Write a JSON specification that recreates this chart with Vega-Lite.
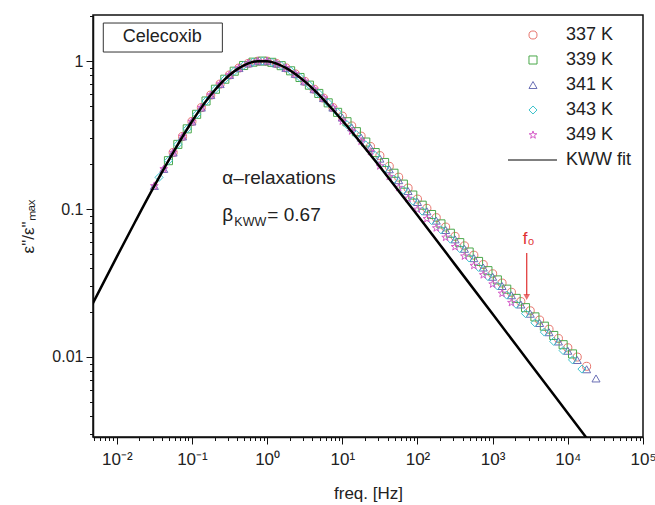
{
  "$schema": "https://vega.github.io/schema/vega-lite/v6.json",
  "width": 550,
  "height": 422,
  "autosize": "none",
  "padding": {"left": 93, "top": 15, "right": 12, "bottom": 68},
  "background": "white",
  "config": {
    "font": "Liberation Sans",
    "view": {"stroke": "#111111", "strokeWidth": 1.5},
    "axis": {
      "grid": false,
      "domainColor": "#111111",
      "domainWidth": 1.5,
      "tickColor": "#111111",
      "tickWidth": 1,
      "labelColor": "#222222",
      "labelFont": "Liberation Sans",
      "titleFont": "Liberation Sans",
      "titleColor": "#222222",
      "titleFontWeight": "normal",
      "labelOverlap": false,
      "labelBound": false,
      "labelFlush": false
    }
  },
  "datasets": {
    "spectra": [
      {"temp": "337 K", "freq": 0.05623, "loss": 0.2407},
      {"temp": "337 K", "freq": 0.07499, "loss": 0.309},
      {"temp": "337 K", "freq": 0.1, "loss": 0.3901},
      {"temp": "337 K", "freq": 0.1334, "loss": 0.4844},
      {"temp": "337 K", "freq": 0.1778, "loss": 0.5887},
      {"temp": "337 K", "freq": 0.2371, "loss": 0.6982},
      {"temp": "337 K", "freq": 0.3162, "loss": 0.8044},
      {"temp": "337 K", "freq": 0.4217, "loss": 0.896},
      {"temp": "337 K", "freq": 0.5623, "loss": 0.9632},
      {"temp": "337 K", "freq": 0.7499, "loss": 0.997},
      {"temp": "337 K", "freq": 1, "loss": 0.9972},
      {"temp": "337 K", "freq": 1.334, "loss": 0.9605},
      {"temp": "337 K", "freq": 1.778, "loss": 0.8981},
      {"temp": "337 K", "freq": 2.371, "loss": 0.8177},
      {"temp": "337 K", "freq": 3.162, "loss": 0.7286},
      {"temp": "337 K", "freq": 4.217, "loss": 0.6446},
      {"temp": "337 K", "freq": 5.623, "loss": 0.5616},
      {"temp": "337 K", "freq": 7.499, "loss": 0.4846},
      {"temp": "337 K", "freq": 10, "loss": 0.4243},
      {"temp": "337 K", "freq": 13.34, "loss": 0.3641},
      {"temp": "337 K", "freq": 17.78, "loss": 0.3106},
      {"temp": "337 K", "freq": 23.71, "loss": 0.2643},
      {"temp": "337 K", "freq": 31.62, "loss": 0.2293},
      {"temp": "337 K", "freq": 42.17, "loss": 0.1942},
      {"temp": "337 K", "freq": 56.23, "loss": 0.164},
      {"temp": "337 K", "freq": 74.99, "loss": 0.1384},
      {"temp": "337 K", "freq": 100, "loss": 0.1167},
      {"temp": "337 K", "freq": 133.4, "loss": 0.101},
      {"temp": "337 K", "freq": 177.8, "loss": 0.08738},
      {"temp": "337 K", "freq": 237.1, "loss": 0.0755},
      {"temp": "337 K", "freq": 316.2, "loss": 0.06525},
      {"temp": "337 K", "freq": 421.7, "loss": 0.05636},
      {"temp": "337 K", "freq": 562.3, "loss": 0.04871},
      {"temp": "337 K", "freq": 749.9, "loss": 0.04213},
      {"temp": "337 K", "freq": 1000, "loss": 0.03649},
      {"temp": "337 K", "freq": 1334, "loss": 0.03159},
      {"temp": "337 K", "freq": 1778, "loss": 0.02736},
      {"temp": "337 K", "freq": 2371, "loss": 0.02369},
      {"temp": "337 K", "freq": 3162, "loss": 0.02052},
      {"temp": "337 K", "freq": 4217, "loss": 0.01777},
      {"temp": "337 K", "freq": 5623, "loss": 0.01539},
      {"temp": "337 K", "freq": 7499, "loss": 0.01333},
      {"temp": "337 K", "freq": 10000, "loss": 0.01154},
      {"temp": "337 K", "freq": 13340, "loss": 0.00999},
      {"temp": "337 K", "freq": 17780, "loss": 0.00865},

      {"temp": "339 K", "freq": 0.0487, "loss": 0.2121},
      {"temp": "339 K", "freq": 0.06494, "loss": 0.2733},
      {"temp": "339 K", "freq": 0.0866, "loss": 0.348},
      {"temp": "339 K", "freq": 0.1155, "loss": 0.4364},
      {"temp": "339 K", "freq": 0.154, "loss": 0.5368},
      {"temp": "339 K", "freq": 0.2054, "loss": 0.6447},
      {"temp": "339 K", "freq": 0.2738, "loss": 0.7534},
      {"temp": "339 K", "freq": 0.3652, "loss": 0.8533},
      {"temp": "339 K", "freq": 0.487, "loss": 0.9324},
      {"temp": "339 K", "freq": 0.6494, "loss": 0.9822},
      {"temp": "339 K", "freq": 0.866, "loss": 0.9986},
      {"temp": "339 K", "freq": 1.155, "loss": 0.9797},
      {"temp": "339 K", "freq": 1.54, "loss": 0.9302},
      {"temp": "339 K", "freq": 2.054, "loss": 0.8586},
      {"temp": "339 K", "freq": 2.738, "loss": 0.7739},
      {"temp": "339 K", "freq": 3.652, "loss": 0.6869},
      {"temp": "339 K", "freq": 4.87, "loss": 0.6037},
      {"temp": "339 K", "freq": 6.494, "loss": 0.5217},
      {"temp": "339 K", "freq": 8.66, "loss": 0.4499},
      {"temp": "339 K", "freq": 11.55, "loss": 0.3887},
      {"temp": "339 K", "freq": 15.4, "loss": 0.333},
      {"temp": "339 K", "freq": 20.54, "loss": 0.2834},
      {"temp": "339 K", "freq": 27.38, "loss": 0.2407},
      {"temp": "339 K", "freq": 36.52, "loss": 0.2062},
      {"temp": "339 K", "freq": 48.7, "loss": 0.1744},
      {"temp": "339 K", "freq": 64.94, "loss": 0.1472},
      {"temp": "339 K", "freq": 86.6, "loss": 0.1242},
      {"temp": "339 K", "freq": 115.5, "loss": 0.1061},
      {"temp": "339 K", "freq": 154, "loss": 0.09176},
      {"temp": "339 K", "freq": 205.4, "loss": 0.07933},
      {"temp": "339 K", "freq": 273.8, "loss": 0.06858},
      {"temp": "339 K", "freq": 365.2, "loss": 0.05925},
      {"temp": "339 K", "freq": 487, "loss": 0.0512},
      {"temp": "339 K", "freq": 649.4, "loss": 0.04422},
      {"temp": "339 K", "freq": 866, "loss": 0.03831},
      {"temp": "339 K", "freq": 1155, "loss": 0.03318},
      {"temp": "339 K", "freq": 1540, "loss": 0.02873},
      {"temp": "339 K", "freq": 2054, "loss": 0.02488},
      {"temp": "339 K", "freq": 2738, "loss": 0.02154},
      {"temp": "339 K", "freq": 3652, "loss": 0.01866},
      {"temp": "339 K", "freq": 4870, "loss": 0.01615},
      {"temp": "339 K", "freq": 6494, "loss": 0.01398},
      {"temp": "339 K", "freq": 8660, "loss": 0.01211},
      {"temp": "339 K", "freq": 11550, "loss": 0.01049},

      {"temp": "341 K", "freq": 0.03162, "loss": 0.1432},
      {"temp": "341 K", "freq": 0.04217, "loss": 0.1865},
      {"temp": "341 K", "freq": 0.05623, "loss": 0.2407},
      {"temp": "341 K", "freq": 0.07499, "loss": 0.309},
      {"temp": "341 K", "freq": 0.1, "loss": 0.3901},
      {"temp": "341 K", "freq": 0.1334, "loss": 0.4844},
      {"temp": "341 K", "freq": 0.1778, "loss": 0.5887},
      {"temp": "341 K", "freq": 0.2371, "loss": 0.6982},
      {"temp": "341 K", "freq": 0.3162, "loss": 0.8044},
      {"temp": "341 K", "freq": 0.4217, "loss": 0.896},
      {"temp": "341 K", "freq": 0.5623, "loss": 0.9632},
      {"temp": "341 K", "freq": 0.7499, "loss": 0.997},
      {"temp": "341 K", "freq": 1, "loss": 0.9972},
      {"temp": "341 K", "freq": 1.334, "loss": 0.9605},
      {"temp": "341 K", "freq": 1.778, "loss": 0.8981},
      {"temp": "341 K", "freq": 2.371, "loss": 0.8177},
      {"temp": "341 K", "freq": 3.162, "loss": 0.7286},
      {"temp": "341 K", "freq": 4.217, "loss": 0.6446},
      {"temp": "341 K", "freq": 5.623, "loss": 0.5616},
      {"temp": "341 K", "freq": 7.499, "loss": 0.4846},
      {"temp": "341 K", "freq": 10, "loss": 0.4148},
      {"temp": "341 K", "freq": 13.34, "loss": 0.3559},
      {"temp": "341 K", "freq": 17.78, "loss": 0.3036},
      {"temp": "341 K", "freq": 23.71, "loss": 0.2584},
      {"temp": "341 K", "freq": 31.62, "loss": 0.219},
      {"temp": "341 K", "freq": 42.17, "loss": 0.1855},
      {"temp": "341 K", "freq": 56.23, "loss": 0.1566},
      {"temp": "341 K", "freq": 74.99, "loss": 0.1322},
      {"temp": "341 K", "freq": 100, "loss": 0.1115},
      {"temp": "341 K", "freq": 133.4, "loss": 0.09645},
      {"temp": "341 K", "freq": 177.8, "loss": 0.08346},
      {"temp": "341 K", "freq": 237.1, "loss": 0.07211},
      {"temp": "341 K", "freq": 316.2, "loss": 0.06232},
      {"temp": "341 K", "freq": 421.7, "loss": 0.05383},
      {"temp": "341 K", "freq": 562.3, "loss": 0.04652},
      {"temp": "341 K", "freq": 749.9, "loss": 0.04024},
      {"temp": "341 K", "freq": 1000, "loss": 0.03485},
      {"temp": "341 K", "freq": 1334, "loss": 0.03017},
      {"temp": "341 K", "freq": 1778, "loss": 0.02613},
      {"temp": "341 K", "freq": 2371, "loss": 0.02263},
      {"temp": "341 K", "freq": 3162, "loss": 0.0196},
      {"temp": "341 K", "freq": 4217, "loss": 0.01697},
      {"temp": "341 K", "freq": 5623, "loss": 0.0147},
      {"temp": "341 K", "freq": 7499, "loss": 0.01273},
      {"temp": "341 K", "freq": 10000, "loss": 0.01102},
      {"temp": "341 K", "freq": 13340, "loss": 0.00954},
      {"temp": "341 K", "freq": 17780, "loss": 0.00826},
      {"temp": "341 K", "freq": 23710, "loss": 0.00716},

      {"temp": "343 K", "freq": 0.03652, "loss": 0.1636},
      {"temp": "343 K", "freq": 0.0487, "loss": 0.2121},
      {"temp": "343 K", "freq": 0.06494, "loss": 0.2733},
      {"temp": "343 K", "freq": 0.0866, "loss": 0.348},
      {"temp": "343 K", "freq": 0.1155, "loss": 0.4364},
      {"temp": "343 K", "freq": 0.154, "loss": 0.5368},
      {"temp": "343 K", "freq": 0.2054, "loss": 0.6447},
      {"temp": "343 K", "freq": 0.2738, "loss": 0.7534},
      {"temp": "343 K", "freq": 0.3652, "loss": 0.8533},
      {"temp": "343 K", "freq": 0.487, "loss": 0.9324},
      {"temp": "343 K", "freq": 0.6494, "loss": 0.9822},
      {"temp": "343 K", "freq": 0.866, "loss": 0.9986},
      {"temp": "343 K", "freq": 1.155, "loss": 0.9797},
      {"temp": "343 K", "freq": 1.54, "loss": 0.9302},
      {"temp": "343 K", "freq": 2.054, "loss": 0.8586},
      {"temp": "343 K", "freq": 2.738, "loss": 0.7739},
      {"temp": "343 K", "freq": 3.652, "loss": 0.6869},
      {"temp": "343 K", "freq": 4.87, "loss": 0.6037},
      {"temp": "343 K", "freq": 6.494, "loss": 0.5217},
      {"temp": "343 K", "freq": 8.66, "loss": 0.4499},
      {"temp": "343 K", "freq": 11.55, "loss": 0.3712},
      {"temp": "343 K", "freq": 15.4, "loss": 0.318},
      {"temp": "343 K", "freq": 20.54, "loss": 0.2707},
      {"temp": "343 K", "freq": 27.38, "loss": 0.2299},
      {"temp": "343 K", "freq": 36.52, "loss": 0.1881},
      {"temp": "343 K", "freq": 48.7, "loss": 0.1591},
      {"temp": "343 K", "freq": 64.94, "loss": 0.1343},
      {"temp": "343 K", "freq": 86.6, "loss": 0.1133},
      {"temp": "343 K", "freq": 115.5, "loss": 0.09675},
      {"temp": "343 K", "freq": 154, "loss": 0.08369},
      {"temp": "343 K", "freq": 205.4, "loss": 0.07235},
      {"temp": "343 K", "freq": 273.8, "loss": 0.06255},
      {"temp": "343 K", "freq": 365.2, "loss": 0.05404},
      {"temp": "343 K", "freq": 487, "loss": 0.0467},
      {"temp": "343 K", "freq": 649.4, "loss": 0.04033},
      {"temp": "343 K", "freq": 866, "loss": 0.03494},
      {"temp": "343 K", "freq": 1155, "loss": 0.03026},
      {"temp": "343 K", "freq": 1540, "loss": 0.0262},
      {"temp": "343 K", "freq": 2054, "loss": 0.02269},
      {"temp": "343 K", "freq": 2738, "loss": 0.01965},
      {"temp": "343 K", "freq": 3652, "loss": 0.01702},
      {"temp": "343 K", "freq": 4870, "loss": 0.01473},
      {"temp": "343 K", "freq": 6494, "loss": 0.01275},
      {"temp": "343 K", "freq": 8660, "loss": 0.01105},
      {"temp": "343 K", "freq": 11550, "loss": 0.00956},
      {"temp": "343 K", "freq": 15400, "loss": 0.00829},

      {"temp": "349 K", "freq": 0.03162, "loss": 0.1432},
      {"temp": "349 K", "freq": 0.04217, "loss": 0.1865},
      {"temp": "349 K", "freq": 0.05623, "loss": 0.2407},
      {"temp": "349 K", "freq": 0.07499, "loss": 0.309},
      {"temp": "349 K", "freq": 0.1, "loss": 0.3901},
      {"temp": "349 K", "freq": 0.1334, "loss": 0.4844},
      {"temp": "349 K", "freq": 0.1778, "loss": 0.5887},
      {"temp": "349 K", "freq": 0.2371, "loss": 0.6982},
      {"temp": "349 K", "freq": 0.3162, "loss": 0.8044},
      {"temp": "349 K", "freq": 0.4217, "loss": 0.896},
      {"temp": "349 K", "freq": 0.5623, "loss": 0.9632},
      {"temp": "349 K", "freq": 0.7499, "loss": 0.997},
      {"temp": "349 K", "freq": 1, "loss": 0.9972},
      {"temp": "349 K", "freq": 1.334, "loss": 0.9605},
      {"temp": "349 K", "freq": 1.778, "loss": 0.8981},
      {"temp": "349 K", "freq": 2.371, "loss": 0.8177},
      {"temp": "349 K", "freq": 3.162, "loss": 0.7286},
      {"temp": "349 K", "freq": 4.217, "loss": 0.6446},
      {"temp": "349 K", "freq": 5.623, "loss": 0.5616},
      {"temp": "349 K", "freq": 7.499, "loss": 0.4846},
      {"temp": "349 K", "freq": 10, "loss": 0.3916},
      {"temp": "349 K", "freq": 13.34, "loss": 0.336},
      {"temp": "349 K", "freq": 17.78, "loss": 0.2866},
      {"temp": "349 K", "freq": 23.71, "loss": 0.2439},
      {"temp": "349 K", "freq": 31.62, "loss": 0.1951},
      {"temp": "349 K", "freq": 42.17, "loss": 0.1653},
      {"temp": "349 K", "freq": 56.23, "loss": 0.1395},
      {"temp": "349 K", "freq": 74.99, "loss": 0.1178},
      {"temp": "349 K", "freq": 100, "loss": 0.09935},
      {"temp": "349 K", "freq": 133.4, "loss": 0.08594},
      {"temp": "349 K", "freq": 177.8, "loss": 0.07436},
      {"temp": "349 K", "freq": 237.1, "loss": 0.06425},
      {"temp": "349 K", "freq": 316.2, "loss": 0.05553},
      {"temp": "349 K", "freq": 421.7, "loss": 0.04796},
      {"temp": "349 K", "freq": 562.3, "loss": 0.04145},
      {"temp": "349 K", "freq": 749.9, "loss": 0.03585},
      {"temp": "349 K", "freq": 1000, "loss": 0.03105},
      {"temp": "349 K", "freq": 1334, "loss": 0.02688},
      {"temp": "349 K", "freq": 1778, "loss": 0.02328}
    ],
    "kww": [
      {"freq": 0.004467, "loss": 0.02143},
      {"freq": 0.01, "loss": 0.0475},
      {"freq": 0.01778, "loss": 0.083},
      {"freq": 0.03162, "loss": 0.1432},
      {"freq": 0.05623, "loss": 0.2407},
      {"freq": 0.1, "loss": 0.3901},
      {"freq": 0.1334, "loss": 0.4844},
      {"freq": 0.1778, "loss": 0.5887},
      {"freq": 0.2371, "loss": 0.6982},
      {"freq": 0.3162, "loss": 0.8044},
      {"freq": 0.4217, "loss": 0.896},
      {"freq": 0.5623, "loss": 0.9632},
      {"freq": 0.7499, "loss": 0.997},
      {"freq": 1, "loss": 0.9972},
      {"freq": 1.334, "loss": 0.9605},
      {"freq": 1.778, "loss": 0.8981},
      {"freq": 2.371, "loss": 0.8177},
      {"freq": 3.162, "loss": 0.7286},
      {"freq": 4.217, "loss": 0.6372},
      {"freq": 5.623, "loss": 0.5488},
      {"freq": 7.499, "loss": 0.4682},
      {"freq": 10, "loss": 0.3962},
      {"freq": 17.78, "loss": 0.2785},
      {"freq": 31.62, "loss": 0.193},
      {"freq": 56.23, "loss": 0.1325},
      {"freq": 100, "loss": 0.09061},
      {"freq": 316.2, "loss": 0.04209},
      {"freq": 1000, "loss": 0.0195},
      {"freq": 3162, "loss": 0.009016},
      {"freq": 10000, "loss": 0.004169},
      {"freq": 31620, "loss": 0.001928}
    ]
  },
  "encoding": {
    "x": {
      "field": "freq",
      "type": "quantitative",
      "scale": {"type": "log", "domain": [0.00483, 100000], "nice": false},
      "axis": {
        "title": "freq. [Hz]",
        "titleFontSize": 17,
        "titlePadding": 18,
        "labelFontSize": 17,
        "labelPadding": 7,
        "values": [0.005, 0.006, 0.007, 0.008, 0.009, 0.01, 0.02, 0.03, 0.04, 0.05, 0.06, 0.07, 0.08, 0.09, 0.1, 0.2, 0.3, 0.4, 0.5, 0.6, 0.7, 0.8, 0.9, 1, 2, 3, 4, 5, 6, 7, 8, 9, 10, 20, 30, 40, 50, 60, 70, 80, 90, 100, 200, 300, 400, 500, 600, 700, 800, 900, 1000, 2000, 3000, 4000, 5000, 6000, 7000, 8000, 9000, 10000, 20000, 30000, 40000, 50000, 60000, 70000, 80000, 90000, 100000],
        "tickSize": {"condition": {"test": "abs(log(datum.value)/LN10 - round(log(datum.value)/LN10)) < 0.01", "value": 7}, "value": 3.5},
        "labelExpr": "abs(log(datum.value)/LN10 - round(log(datum.value)/LN10)) > 0.01 ? '' : '10' + replace(replace(replace(replace(replace(replace(replace(replace('' + round(log(datum.value)/LN10), '-', '⁻'), '0', '⁰'), '1', '¹'), '2', '²'), '3', '³'), '4', '⁴'), '5', '⁵'), '6', '⁶')"
      }
    },
    "y": {
      "field": "loss",
      "type": "quantitative",
      "scale": {"type": "log", "domain": [0.00288, 2.046], "nice": false},
      "axis": {
        "title": "ε\"/ε\"ₘₐₓ",
        "titleFontSize": 17,
        "titlePadding": 14,
        "labelFontSize": 16,
        "labelPadding": 3,
        "values": [0.003, 0.004, 0.005, 0.006, 0.007, 0.008, 0.009, 0.01, 0.02, 0.03, 0.04, 0.05, 0.06, 0.07, 0.08, 0.09, 0.1, 0.2, 0.3, 0.4, 0.5, 0.6, 0.7, 0.8, 0.9, 1, 2],
        "tickSize": {"condition": {"test": "abs(log(datum.value)/LN10 - round(log(datum.value)/LN10)) < 0.01", "value": 7}, "value": 3.5},
        "labelExpr": "abs(log(datum.value)/LN10 - round(log(datum.value)/LN10)) > 0.01 ? '' : (datum.value > 0.5 ? '1' : (datum.value > 0.05 ? '0.1' : '0.01'))"
      }
    }
  },
  "layer": [
    {
      "data": {"values": [{"freq": 0.00662, "freq2": 0.254, "loss": 1.806, "loss2": 1.15}]},
      "mark": {"type": "rect", "fill": "white", "stroke": "#333333", "strokeWidth": 1},
      "encoding": {"x2": {"field": "freq2"}, "y2": {"field": "loss2"}}
    },
    {
      "data": {"name": "spectra"},
      "mark": {"type": "point", "filled": false, "size": 65, "strokeWidth": 1, "opacity": 1},
      "encoding": {
        "color": {
          "field": "temp",
          "type": "nominal",
          "scale": {
            "domain": ["337 K", "339 K", "341 K", "343 K", "349 K", "KWW fit"],
            "range": ["#e8766e", "#4aa84a", "#6a6fb5", "#3ec3cc", "#d65cc8", "#000000"]
          },
          "legend": {
            "title": null,
            "orient": "none",
            "legendX": 431,
            "legendY": 11,
            "padding": 0,
            "labelFontSize": 18,
            "labelColor": "#222222",
            "labelOffset": 24,
            "rowPadding": 7,
            "symbolSize": 65,
            "symbolStrokeWidth": 1,
            "encode": {
              "symbols": {"update": {"strokeWidth": {"signal": "datum.value === 'KWW fit' ? 2.5 : 1"}}}
            }
          }
        },
        "shape": {
          "field": "temp",
          "type": "nominal",
          "scale": {
            "domain": ["337 K", "339 K", "341 K", "343 K", "349 K", "KWW fit"],
            "range": ["circle", "square", "triangle-up", "diamond", "M0,-1L0.235,-0.324L0.951,-0.309L0.38,0.124L0.588,0.809L0,0.4L-0.588,0.809L-0.38,0.124L-0.951,-0.309L-0.235,-0.324Z", "M-6.2,0L5.95,0"]
          }
        }
      }
    },
    {
      "data": {"name": "kww"},
      "mark": {"type": "line", "color": "#000000", "strokeWidth": 2.5, "interpolate": "monotone", "clip": true},
      "encoding": {}
    },
    {
      "data": {"values": [{"freq": 0.0404, "loss": 1.464, "label": "Celecoxib"}]},
      "mark": {"type": "text", "fontSize": 18, "color": "#222222", "align": "center", "baseline": "middle"},
      "encoding": {"text": {"field": "label"}}
    },
    {
      "data": {"values": [{"freq": 0.254, "loss": 0.1476, "label": "α–relaxations"}]},
      "mark": {"type": "text", "fontSize": 19, "color": "#222222", "align": "left", "baseline": "alphabetic"},
      "encoding": {"text": {"field": "label"}}
    },
    {
      "data": {"values": [{"freq": 0.254, "loss": 0.083, "label": "β"}]},
      "mark": {"type": "text", "fontSize": 19, "color": "#222222", "align": "left", "baseline": "alphabetic"},
      "encoding": {"text": {"field": "label"}}
    },
    {
      "data": {"values": [{"freq": 0.254, "loss": 0.083, "label": "KWW"}]},
      "mark": {"type": "text", "fontSize": 12.5, "color": "#222222", "align": "left", "baseline": "alphabetic", "dx": 12, "dy": 5},
      "encoding": {"text": {"field": "label"}}
    },
    {
      "data": {"values": [{"freq": 0.254, "loss": 0.083, "label": "= 0.67"}]},
      "mark": {"type": "text", "fontSize": 19, "color": "#222222", "align": "left", "baseline": "alphabetic", "dx": 45},
      "encoding": {"text": {"field": "label"}}
    },
    {
      "data": {"values": [{"freq": 2840, "loss": 0.0545, "label": "f₀"}]},
      "mark": {"type": "text", "fontSize": 17, "color": "#e03030", "align": "center", "baseline": "bottom", "dx": 2},
      "encoding": {"text": {"field": "label"}}
    },
    {
      "data": {"values": [{"freq": 2840, "loss": 0.0504, "loss2": 0.02624}]},
      "mark": {"type": "rule", "color": "#e03030", "strokeWidth": 1.2},
      "encoding": {"y2": {"field": "loss2"}}
    },
    {
      "data": {"values": [{"freq": 2840, "loss": 0.02543}]},
      "mark": {"type": "point", "shape": "triangle-down", "filled": true, "color": "#e03030", "size": 45, "strokeWidth": 0},
      "encoding": {}
    }
  ]
}
